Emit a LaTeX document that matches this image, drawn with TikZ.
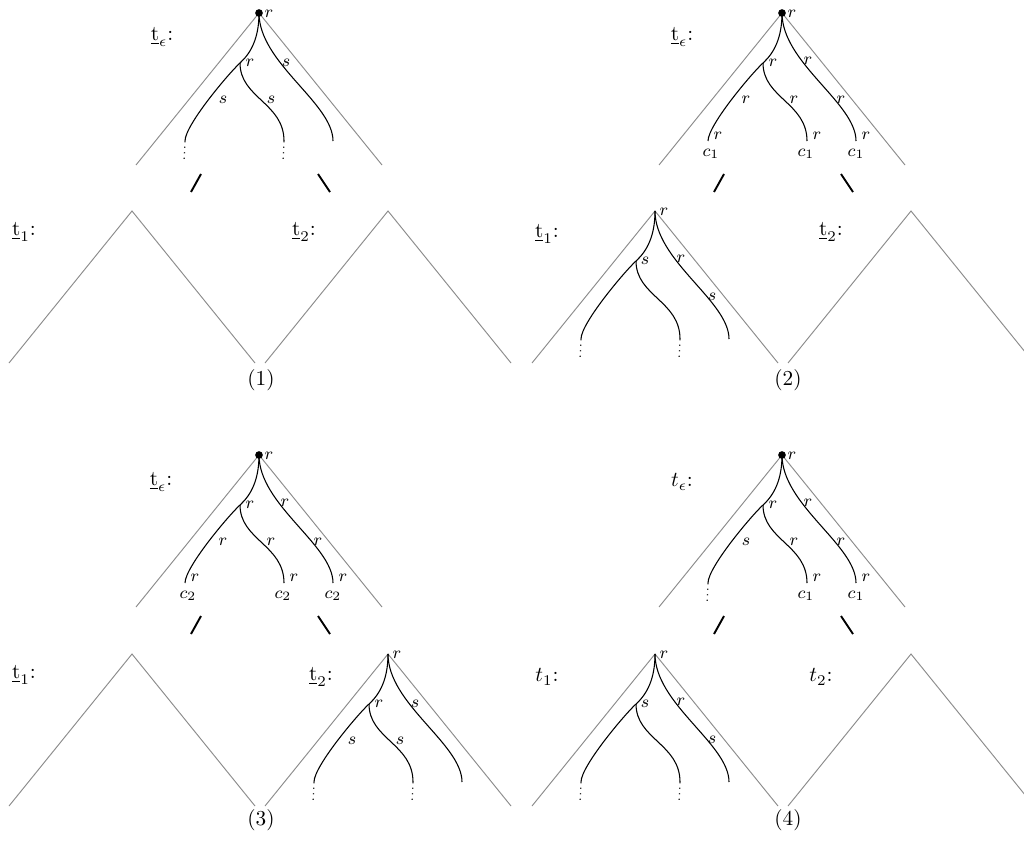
\documentclass[tikz,border=0pt]{standalone}
\usepackage{xcolor}
\usepackage{tikz}
\usetikzlibrary{positioning}
\definecolor{hullgray}{HTML}{8C8C8C}

\tikzset{
    hull/.style={draw=hullgray, line width=0.45pt},
    strand/.style={draw=black, line width=0.5pt},
    tail/.style={draw=black!80, dotted, line width=0.6pt},
    slash/.style={draw=black, line width=0.9pt},
    lbl/.style={inner sep=1pt, font=\footnotesize},
    treename/.style={inner sep=1pt},
}

% outline of a tree, apex at the origin of the scope
\newcommand{\treehull}[1]{%
  \coordinate (#1top) at (0,0);
  \coordinate (#1bl) at (-123,-152);
  \coordinate (#1br) at (123,-152);
  \draw[hull] (#1bl) -- (#1top) -- (#1br);}

% the three strands hanging from the root
\newcommand{\strands}[1]{%
  \coordinate (#1fork) at (-19,-50);
  \coordinate (#1l) at (-74,-128);
  \coordinate (#1m) at (25,-128);
  \coordinate (#1r) at (74,-128);
  \coordinate (#1ldot) at (-75,-148);
  \coordinate (#1mdot) at (24,-148);
  \draw[strand] (#1top) .. controls (0,-25) and (-8,-40) .. (#1fork)
      .. controls (-30,-60) and (-74,-112) .. (#1l);
  \draw[strand] (#1fork) .. controls (-19,-85) and (25,-90) .. (#1m);
  \draw[strand] (#1top) .. controls (0,-50) and (74,-90) .. (#1r);}

\begin{document}
\begin{tikzpicture}[x=0.47pt, y=0.47pt]
    \useasboundingbox (0,0) rectangle (1024,-854);

    % ---- (1) ----
    \begin{scope}[shift={(259,-13)}]
      \treehull{Ae}
      \strands{Ae}
      \fill (Aetop) circle (1.8pt);
      \node[lbl] (AeLroot) at (10,-1) {$r$};
      \node[lbl] (AeLfork) at (-9,-50) {$r$};
      \node[lbl] (AeLleft) at (-36,-87) {$s$};
      \node[lbl] (AeLmid) at (12,-87) {$s$};
      \node[lbl] (AeLup) at (27,-50) {$s$};
      \draw[tail] (Ael) -- (Aeldot);
      \draw[tail] (Aem) -- (Aemdot);
      \draw[slash] (-68,-179) -- (-58,-161);
      \draw[slash] (59,-161) -- (71,-179);
    \end{scope}
    \begin{scope}[shift={(132,-211)}]
      \treehull{A1}
    \end{scope}
    \begin{scope}[shift={(388,-211)}]
      \treehull{A2}
    \end{scope}
    \node[treename] (Ane) at (162,-37) {$\underline{\mathrm{t}}_\epsilon$:};
    \node[treename] (An1) at (24,-232) {$\underline{\mathrm{t}}_1$:};
    \node[treename] (An2) at (304,-232) {$\underline{\mathrm{t}}_2$:};
    \node[treename] (Acap) at (261,-380) {(1)};

    % ---- (2) ----
    \begin{scope}[shift={(782,-13)}]
      \treehull{Be}
      \strands{Be}
      \fill (Betop) circle (1.8pt);
      \node[lbl] (BeLroot) at (10,-1) {$r$};
      \node[lbl] (BeLfork) at (-9,-50) {$r$};
      \node[lbl] (BeLleft) at (-36,-87) {$r$};
      \node[lbl] (BeLmid) at (12,-87) {$r$};
      \node[lbl] (BeLup) at (26,-48) {$r$};
      \node[lbl] (BeLdown) at (59,-87) {$r$};
      \node[lbl] (BeLex) at (-64,-123) {$r$};
      \node[lbl] (BeLey) at (35,-123) {$r$};
      \node[lbl] (BeLez) at (84,-123) {$r$};
      \node[lbl] (BeLcx) at (-71,-141) {$c_1$};
      \node[lbl] (BeLcy) at (24,-141) {$c_1$};
      \node[lbl] (BeLcz) at (74,-141) {$c_1$};
      \draw[slash] (-68,-179) -- (-58,-161);
      \draw[slash] (59,-161) -- (71,-179);
    \end{scope}
    \begin{scope}[shift={(655,-211)}]
      \treehull{B1}
      \strands{B1}
      \node[lbl] (B1Lroot) at (9,-1) {$r$};
      \node[lbl] (B1Lfork) at (-10,-50) {$s$};
      \node[lbl] (B1Lup) at (26,-48) {$r$};
      \node[lbl] (B1Ldown) at (57,-86) {$s$};
      \draw[tail] (B1l) -- (B1ldot);
      \draw[tail] (B1m) -- (B1mdot);
    \end{scope}
    \begin{scope}[shift={(911,-211)}]
      \treehull{B2}
    \end{scope}
    \node[treename] (Bne) at (682,-37) {$\underline{\mathrm{t}}_\epsilon$:};
    \node[treename] (Bn1) at (547,-234) {$\underline{\mathrm{t}}_1$:};
    \node[treename] (Bn2) at (831,-232) {$\underline{\mathrm{t}}_2$:};
    \node[treename] (Bcap) at (788,-380) {(2)};

    % ---- (3) ----
    \begin{scope}[shift={(259,-455)}]
      \treehull{Ce}
      \strands{Ce}
      \fill (Cetop) circle (1.8pt);
      \node[lbl] (CeLroot) at (10,-1) {$r$};
      \node[lbl] (CeLfork) at (-9,-50) {$r$};
      \node[lbl] (CeLleft) at (-36,-87) {$r$};
      \node[lbl] (CeLmid) at (12,-87) {$r$};
      \node[lbl] (CeLup) at (26,-48) {$r$};
      \node[lbl] (CeLdown) at (59,-87) {$r$};
      \node[lbl] (CeLex) at (-64,-123) {$r$};
      \node[lbl] (CeLey) at (35,-123) {$r$};
      \node[lbl] (CeLez) at (84,-123) {$r$};
      \node[lbl] (CeLcx) at (-71,-141) {$c_2$};
      \node[lbl] (CeLcy) at (24,-141) {$c_2$};
      \node[lbl] (CeLcz) at (74,-141) {$c_2$};
      \draw[slash] (-68,-179) -- (-58,-161);
      \draw[slash] (59,-161) -- (71,-179);
    \end{scope}
    \begin{scope}[shift={(132,-654)}]
      \treehull{C1}
    \end{scope}
    \begin{scope}[shift={(388,-654)}]
      \treehull{C2}
      \strands{C2}
      \node[lbl] (C2Lroot) at (9,-1) {$r$};
      \node[lbl] (C2Lfork) at (-9,-50) {$r$};
      \node[lbl] (C2Lleft) at (-36,-87) {$s$};
      \node[lbl] (C2Lmid) at (12,-87) {$s$};
      \node[lbl] (C2Lup) at (27,-50) {$s$};
      \draw[tail] (C2l) -- (C2ldot);
      \draw[tail] (C2m) -- (C2mdot);
    \end{scope}
    \node[treename] (Cne) at (161,-482) {$\underline{\mathrm{t}}_\epsilon$:};
    \node[treename] (Cn1) at (24,-675) {$\underline{\mathrm{t}}_1$:};
    \node[treename] (Cn2) at (321,-677) {$\underline{\mathrm{t}}_2$:};
    \node[treename] (Ccap) at (261,-820) {(3)};

    % ---- (4) ----
    \begin{scope}[shift={(782,-455)}]
      \treehull{De}
      \strands{De}
      \fill (Detop) circle (1.8pt);
      \node[lbl] (DeLroot) at (10,-1) {$r$};
      \node[lbl] (DeLfork) at (-9,-50) {$r$};
      \node[lbl] (DeLleft) at (-36,-87) {$s$};
      \node[lbl] (DeLmid) at (12,-87) {$r$};
      \node[lbl] (DeLup) at (26,-48) {$r$};
      \node[lbl] (DeLdown) at (59,-87) {$r$};
      \node[lbl] (DeLey) at (35,-123) {$r$};
      \node[lbl] (DeLez) at (84,-123) {$r$};
      \node[lbl] (DeLcy) at (24,-141) {$c_1$};
      \node[lbl] (DeLcz) at (74,-141) {$c_1$};
      \draw[tail] (Del) -- (Deldot);
      \draw[slash] (-68,-179) -- (-58,-161);
      \draw[slash] (59,-161) -- (71,-179);
    \end{scope}
    \begin{scope}[shift={(655,-654)}]
      \treehull{D1}
      \strands{D1}
      \node[lbl] (D1Lroot) at (9,-1) {$r$};
      \node[lbl] (D1Lfork) at (-10,-50) {$s$};
      \node[lbl] (D1Lup) at (26,-48) {$r$};
      \node[lbl] (D1Ldown) at (57,-86) {$s$};
      \draw[tail] (D1l) -- (D1ldot);
      \draw[tail] (D1m) -- (D1mdot);
    \end{scope}
    \begin{scope}[shift={(911,-654)}]
      \treehull{D2}
    \end{scope}
    \node[treename] (Dne) at (682,-482) {$t_\epsilon$:};
    \node[treename] (Dn1) at (547,-677) {$t_1$:};
    \node[treename] (Dn2) at (821,-677) {$t_2$:};
    \node[treename] (Dcap) at (788,-820) {(4)};
\end{tikzpicture}
\end{document}
